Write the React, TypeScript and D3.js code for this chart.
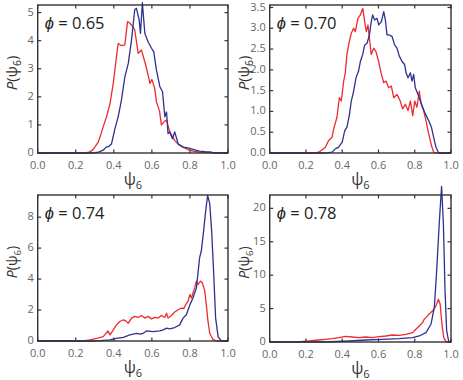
import React from 'react';
import * as d3 from 'd3';

type Pt = [number, number];

// phi = 0.65
const red065: Pt[] = [[0,0],[0.25,0],[0.274,0.04],[0.29,0.12],[0.30,0.21],[0.318,0.39],[0.33,0.62],[0.344,0.93],[0.362,1.29],[0.38,1.76],[0.397,2.48],[0.414,3.43],[0.423,3.9],[0.44,3.82],[0.458,3.85],[0.472,4.68],[0.485,4.62],[0.50,4.5],[0.51,4.38],[0.528,3.55],[0.545,3.67],[0.57,3.07],[0.59,2.48],[0.60,2.62],[0.615,2.3],[0.624,1.82],[0.64,1.5],[0.65,1.0],[0.665,1.12],[0.677,1.17],[0.694,0.75],[0.705,0.62],[0.72,0.45],[0.74,0.3],[0.764,0.21],[0.79,0.12],[0.816,0.07],[0.85,0.03],[0.9,0.01],[1.0,0]];
const blue065: Pt[] = [[0,0],[0.29,0],[0.32,0.03],[0.344,0.1],[0.36,0.21],[0.375,0.24],[0.388,0.33],[0.406,0.87],[0.423,1.29],[0.44,1.88],[0.458,2.71],[0.476,3.19],[0.493,4.02],[0.51,5.1],[0.519,5.15],[0.533,4.74],[0.54,4.26],[0.55,5.35],[0.563,4.26],[0.58,3.96],[0.598,3.73],[0.61,3.6],[0.624,2.95],[0.642,2.36],[0.656,2.18],[0.668,1.29],[0.677,1.46],[0.685,0.69],[0.694,0.75],[0.708,0.51],[0.72,0.75],[0.738,0.33],[0.764,0.21],[0.79,0.18],[0.808,0.15],[0.83,0.1],[0.85,0.07],[0.88,0.05],[0.904,0.04],[0.93,0],[1.0,0]];

// phi = 0.70
const red070: Pt[] = [[0,0],[0.25,0],[0.27,0.02],[0.29,0.08],[0.307,0.14],[0.325,0.3],[0.344,0.38],[0.353,0.58],[0.371,0.86],[0.384,1.33],[0.395,1.25],[0.408,1.73],[0.417,1.93],[0.426,2.37],[0.439,2.68],[0.45,2.88],[0.463,3.0],[0.472,2.92],[0.487,3.24],[0.5,3.32],[0.513,3.48],[0.524,3.16],[0.533,2.92],[0.542,3.08],[0.55,2.76],[0.56,2.37],[0.574,2.52],[0.586,2.44],[0.601,2.2],[0.616,1.89],[0.629,1.69],[0.642,1.73],[0.656,1.57],[0.671,1.61],[0.684,1.33],[0.702,1.41],[0.72,1.25],[0.733,1.06],[0.748,1.17],[0.763,1.02],[0.776,1.25],[0.789,0.9],[0.8,1.25],[0.812,1.1],[0.825,1.49],[0.836,1.17],[0.849,1.02],[0.862,0.78],[0.877,0.46],[0.892,0.18],[0.904,0.02],[0.92,0],[1.0,0]];
const blue070: Pt[] = [[0,0],[0.3,0],[0.325,0.01],[0.344,0.02],[0.362,0.1],[0.38,0.14],[0.4,0.26],[0.414,0.54],[0.426,0.62],[0.439,0.9],[0.45,1.25],[0.463,1.49],[0.476,1.81],[0.49,1.97],[0.5,2.2],[0.513,2.37],[0.524,2.6],[0.537,2.64],[0.55,2.84],[0.56,3.16],[0.568,3.32],[0.579,3.2],[0.592,3.24],[0.601,3.08],[0.616,3.16],[0.629,3.4],[0.638,3.2],[0.647,2.84],[0.66,2.84],[0.675,2.8],[0.689,2.6],[0.702,2.52],[0.715,2.33],[0.73,2.2],[0.744,2.13],[0.752,1.93],[0.763,1.81],[0.776,1.93],[0.785,1.73],[0.794,1.89],[0.803,1.57],[0.818,1.41],[0.831,1.25],[0.844,1.1],[0.858,0.94],[0.877,0.78],[0.892,0.62],[0.904,0.38],[0.917,0.14],[0.932,0],[1.0,0]];

// phi = 0.74
const red074: Pt[] = [[0,0],[0.24,0],[0.274,0.07],[0.31,0.17],[0.344,0.28],[0.37,0.65],[0.38,0.39],[0.397,0.72],[0.414,1.04],[0.432,1.26],[0.45,1.37],[0.463,1.3],[0.476,1.15],[0.493,1.48],[0.51,1.59],[0.528,1.52],[0.545,1.65],[0.563,1.48],[0.58,1.59],[0.598,1.43],[0.615,1.52],[0.633,1.48],[0.65,1.65],[0.668,1.52],[0.677,1.8],[0.685,1.48],[0.703,1.65],[0.72,1.87],[0.738,2.02],[0.755,2.13],[0.767,2.09],[0.778,2.35],[0.79,2.57],[0.8,3.0],[0.808,2.78],[0.816,3.11],[0.825,3.43],[0.834,3.87],[0.843,3.65],[0.855,3.87],[0.865,3.76],[0.878,3.22],[0.886,2.35],[0.895,1.26],[0.904,0.5],[0.921,0.1],[0.94,0],[1.0,0]];
const blue074: Pt[] = [[0,0],[0.3,0],[0.327,0.02],[0.38,0.07],[0.414,0.17],[0.45,0.24],[0.484,0.39],[0.519,0.5],[0.537,0.44],[0.554,0.5],[0.572,0.65],[0.607,0.61],[0.642,0.65],[0.66,0.72],[0.677,0.83],[0.694,0.78],[0.72,0.87],[0.746,1.04],[0.764,1.48],[0.781,1.7],[0.8,2.35],[0.816,2.78],[0.834,3.43],[0.851,5.39],[0.86,5.83],[0.872,7.13],[0.883,8.43],[0.893,9.41],[0.904,8.87],[0.914,7.13],[0.925,4.3],[0.935,1.48],[0.948,0.28],[0.965,0],[1.0,0]];

// phi = 0.78
const red078: Pt[] = [[0,0.05],[0.1,0.05],[0.18,0.08],[0.216,0.15],[0.27,0.3],[0.308,0.4],[0.345,0.5],[0.382,0.65],[0.419,0.85],[0.456,0.75],[0.49,0.65],[0.53,0.75],[0.566,0.65],[0.603,0.8],[0.64,0.9],[0.677,1.05],[0.714,1.0],[0.75,1.15],[0.788,1.4],[0.806,1.9],[0.825,2.4],[0.843,2.9],[0.852,3.4],[0.862,3.65],[0.88,4.2],[0.9,4.7],[0.917,5.4],[0.93,6.4],[0.94,5.7],[0.95,2.7],[0.96,0.65],[0.972,0.05],[1.0,0]];
const blue078: Pt[] = [[0,0],[0.3,0],[0.437,0.15],[0.53,0.3],[0.62,0.4],[0.714,0.5],[0.788,0.65],[0.825,0.9],[0.862,1.4],[0.89,2.7],[0.908,5.2],[0.92,10.2],[0.935,17.7],[0.948,23.3],[0.958,17.7],[0.967,7.7],[0.976,1.7],[0.987,0.15],[1.0,0]];

const xTicks = [0, 0.2, 0.4, 0.6, 0.8, 1.0];
const yTicks065 = [0, 1, 2, 3, 4, 5];
const yTicks070 = [0, 0.5, 1.0, 1.5, 2.0, 2.5, 3.0, 3.5];
const yTicks074 = [0, 2, 4, 6, 8];
const yTicks078 = [0, 5, 10, 15, 20];

const RED = '#ee2a2e';
const BLUE = '#2e3192';
const FONT = "'Open Sans', 'Liberation Sans', sans-serif";

interface PanelProps {
  left: number; right: number; top: number; bottom: number;
  yMax: number; yTicks: number[]; yFmt: (v: number) => string;
  red: Pt[]; blue: Pt[]; phi: string; labelSize: number;
}

function Panel(p: PanelProps) {
  const x = d3.scaleLinear().domain([0, 1]).range([p.left, p.right]);
  const y = d3.scaleLinear().domain([0, p.yMax]).range([p.bottom, p.top]);
  const line = d3.line<Pt>().x(d => x(d[0])).y(d => y(d[1]));
  const tk = 3.5;
  const cx = (p.left + p.right) / 2;
  const cy = (p.top + p.bottom) / 2 - 6;
  return (
    <g>
      <path d={line(p.red) || ''} fill="none" stroke={RED} strokeWidth={1.3} strokeLinejoin="round" />
      <path d={line(p.blue) || ''} fill="none" stroke={BLUE} strokeWidth={1.3} strokeLinejoin="round" />
      <rect x={p.left} y={p.top} width={p.right - p.left} height={p.bottom - p.top}
        fill="none" stroke="#333" strokeWidth={1.4} />
      {xTicks.map(v => (
        <g key={'x' + v}>
          <line x1={x(v)} x2={x(v)} y1={p.bottom} y2={p.bottom - tk} stroke="#333" strokeWidth={1.2} />
          <line x1={x(v)} x2={x(v)} y1={p.top} y2={p.top + tk} stroke="#333" strokeWidth={1.2} />
          <text x={x(v)} y={p.bottom + 16} textAnchor="middle" fontSize={11} fill="#666" fontFamily={FONT}>
            {d3.format('.1f')(v)}
          </text>
        </g>
      ))}
      {p.yTicks.map(v => (
        <g key={'y' + v}>
          <line x1={p.left} x2={p.left + tk} y1={y(v)} y2={y(v)} stroke="#333" strokeWidth={1.2} />
          <line x1={p.right} x2={p.right - tk} y1={y(v)} y2={y(v)} stroke="#333" strokeWidth={1.2} />
          <text x={p.left - 4} y={y(v) + 3} textAnchor="end" fontSize={11} fill="#666" fontFamily={FONT}>
            {p.yFmt(v)}
          </text>
        </g>
      ))}
      <text x={p.left + 7} y={p.top + 24} fontSize={16.5} fill="#222" fontFamily={FONT}>
        <tspan fontStyle="italic">ϕ</tspan> = {p.phi}
      </text>
      <text x={cx} y={p.bottom + 32} textAnchor="middle" fontSize={16} fill="#333" fontFamily={FONT}>
        ψ<tspan fontSize={11} dy={4}>6</tspan>
      </text>
      <text transform={`translate(${p.left - 21},${cy}) rotate(-90)`} textAnchor="middle"
        fontSize={p.labelSize} fill="#333" fontFamily={FONT}>
        <tspan fontStyle="italic">P</tspan>(ψ<tspan fontSize={p.labelSize * 0.7} dy={4}>6</tspan><tspan dy={-4}>)</tspan>
      </text>
    </g>
  );
}

export default function App() {
  const intFmt = d3.format('d');
  const oneFmt = d3.format('.1f');
  return (
    <svg width={463} height={380} style={{ position: 'absolute', left: 0, top: 0, background: '#fff' }}>
      <Panel left={37.7} right={228} top={5} bottom={153} yMax={5.27} yTicks={yTicks065} yFmt={intFmt}
        red={red065} blue={blue065} phi="0.65" labelSize={15} />
      <Panel left={269.7} right={451} top={5} bottom={153} yMax={3.56} yTicks={yTicks070} yFmt={oneFmt}
        red={red070} blue={blue070} phi="0.70" labelSize={15} />
      <Panel left={37.7} right={228} top={195} bottom={341} yMax={9.43} yTicks={yTicks074} yFmt={intFmt}
        red={red074} blue={blue074} phi="0.74" labelSize={14} />
      <Panel left={269.7} right={451} top={195} bottom={342} yMax={22} yTicks={yTicks078} yFmt={intFmt}
        red={red078} blue={blue078} phi="0.78" labelSize={14} />
    </svg>
  );
}
